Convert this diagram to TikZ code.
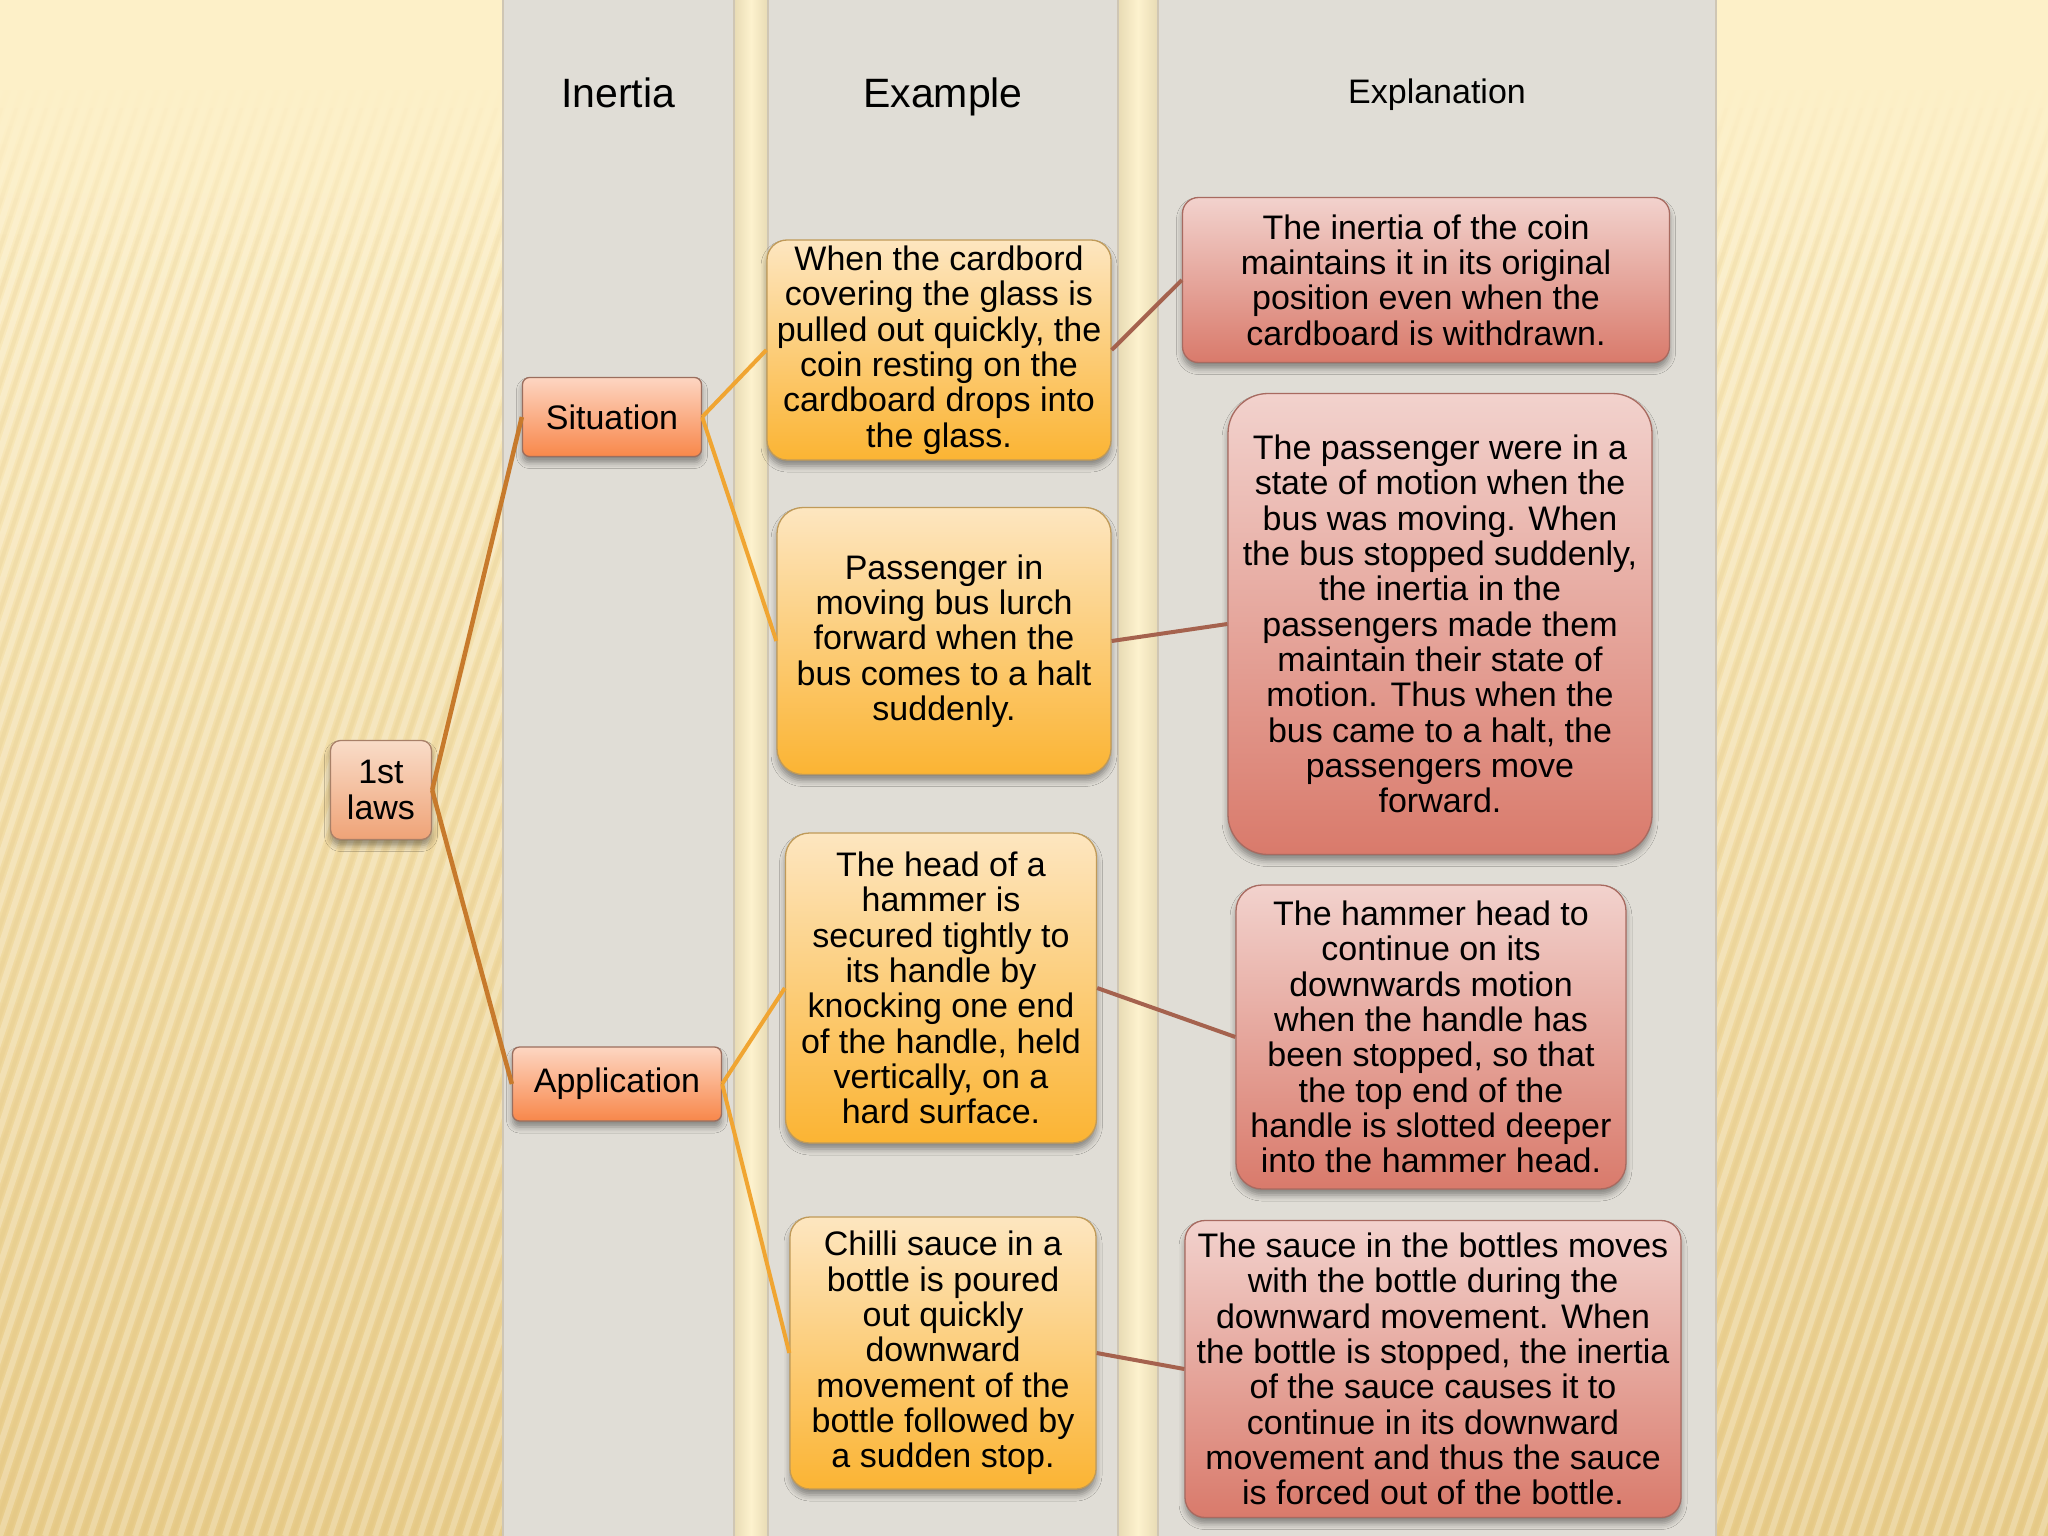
\documentclass[tikz,border=0pt]{standalone}
\usepackage{fontspec}
\setmainfont{Liberation Sans}
\usetikzlibrary{shadows.blur}
\definecolor{bgtop}{HTML}{FDF0C8}
\definecolor{bgbot}{HTML}{E8CC8A}
\definecolor{stripedark}{HTML}{D6B772}
\definecolor{gapedge}{HTML}{E8DBB4}
\definecolor{gapmid}{HTML}{FDF2CE}
\definecolor{colfill}{HTML}{E0DDD6}
\definecolor{coledge}{HTML}{CFC6B4}
\definecolor{lawtop}{HTML}{F9DCC8}
\definecolor{lawbot}{HTML}{EFA377}
\definecolor{lawline}{HTML}{A88068}
\definecolor{cattop}{HTML}{FDD6C2}
\definecolor{catbot}{HTML}{F8874A}
\definecolor{catline}{HTML}{9B6E5E}
\definecolor{extop}{HTML}{FDE6C0}
\definecolor{exbot}{HTML}{FBB433}
\definecolor{exline}{HTML}{C09A58}
\definecolor{exptop}{HTML}{F2D2CD}
\definecolor{expbot}{HTML}{D97A6B}
\definecolor{expline}{HTML}{A86A60}
\definecolor{linkmain}{HTML}{C77A2C}
\definecolor{linksub}{HTML}{F0A532}
\definecolor{linkexp}{HTML}{A5624E}
\newcommand{\bodyfont}{\fontsize{34}{35.3}\selectfont}
\newcommand{\headfont}{\fontsize{41}{45}\selectfont}
\newcommand{\headsmall}{\fontsize{34}{38}\selectfont}
\tikzset{
  boxbase/.style={align=center, inner sep=0pt, font=\bodyfont, line width=1.3pt,
    blur shadow={shadow xshift=0pt, shadow yshift=-6pt, shadow blur radius=6pt, shadow opacity=40}},
  lawbox/.style={boxbase, draw=lawline, top color=lawtop, bottom color=lawbot, rounded corners=10pt},
  catbox/.style={boxbase, draw=catline, top color=cattop, bottom color=catbot, rounded corners=7pt},
  exbox/.style={boxbase, draw=exline, top color=extop, bottom color=exbot},
  expbox/.style={boxbase, draw=expline, top color=exptop, bottom color=expbot},
  header/.style={anchor=base, inner sep=0pt},
  mainlink/.style={draw=linkmain, line width=4.5pt},
  sublink/.style={draw=linksub, line width=4pt},
  explink/.style={draw=linkexp, line width=4pt},
}
\begin{document}
\begin{tikzpicture}[x=1pt,y=-1pt]
\useasboundingbox (0,0) rectangle (2048,1536);
% background
\fill[top color=bgtop, bottom color=bgbot] (0,0) rectangle (2048,1536);
\begin{scope}
  \clip (0,90) rectangle (2048,1536);
  \foreach \k in {-40,...,140} {
    \draw[white, opacity=0.24, line width=6pt] (\k*15, 1536) -- (\k*15+480, 90);
    \draw[stripedark, opacity=0.14, line width=4pt] (\k*15+7.5, 1536) -- (\k*15+487.5, 90);
  }
\end{scope}
\fill[bgtop] (0,0) rectangle (2048,90);
\foreach \i in {0,...,9} {
  \fill[bgtop, opacity={0.9-0.09*\i}] (0,90+\i*18) rectangle (2048,108+\i*18);
}
% gaps between columns
\fill[left color=gapedge, right color=gapedge, middle color=gapmid] (734,0) rectangle (768,1536);
\fill[left color=gapedge, right color=gapedge, middle color=gapmid] (1118,0) rectangle (1158,1536);
% columns
\fill[colfill] (503,0) rectangle (734,1536);
\fill[colfill] (768,0) rectangle (1118,1536);
\fill[colfill] (1158,0) rectangle (1716,1536);
\foreach \xa/\xb in {503/734,768/1118,1158/1716} {
  \draw[coledge, line width=2.5pt] (\xa,0) -- (\xa,1536);
  \draw[coledge, line width=2.5pt] (\xb,0) -- (\xb,1536);
}

% headers
\node[header, font=\headfont] (hinertia) at (618,108) {Inertia};
\node[header, font=\headfont] (hexample) at (943,108) {Example};
\node[header, font=\headsmall] (hexpl) at (1437,104) {Explanation};

% nodes
\node[lawbox, minimum width=101pt, minimum height=99pt] (laws) at (381,790) {1st\\laws};
\node[catbox, minimum width=179pt, minimum height=79pt] (sit) at (612,417) {Situation};
\node[catbox, minimum width=209pt, minimum height=74pt] (app) at (617,1084) {Application};

\node[exbox, rounded corners=20pt, minimum width=344pt, minimum height=220pt] (ex1) at (939,350)
  {When the cardbord\\covering the glass is\\pulled out quickly, the\\coin resting on the\\cardboard drops into\\the glass.};
\node[exbox, rounded corners=26pt, minimum width=334pt, minimum height=267pt] (ex2) at (944,641)
  {Passenger in\\moving bus lurch\\forward when the\\bus comes to a halt\\suddenly.};
\node[exbox, rounded corners=24pt, minimum width=311pt, minimum height=310pt] (ex3) at (941,988)
  {The head of a\\hammer is\\secured tightly to\\its handle by\\knocking one end\\of the handle, held\\vertically, on a\\hard surface.};
\node[exbox, rounded corners=20pt, minimum width=306pt, minimum height=272pt] (ex4) at (943,1353)
  {Chilli sauce in a\\bottle is poured\\out quickly\\downward\\movement of the\\bottle followed by\\a sudden stop.};

\node[expbox, rounded corners=16pt, minimum width=487pt, minimum height=165pt] (exp1) at (1426,280)
  {The inertia of the coin\\maintains it in its original\\position even when the\\cardboard is withdrawn.};
\node[expbox, rounded corners=40pt, minimum width=424pt, minimum height=461pt] (exp2) at (1440,624)
  {The passenger were in a\\state of motion when the\\bus was moving. When\\the bus stopped suddenly,\\the inertia in the\\passengers made them\\maintain their state of\\motion. Thus when the\\bus came to a halt, the\\passengers move\\forward.};
\node[expbox, rounded corners=26pt, minimum width=390pt, minimum height=304pt] (exp3) at (1431,1037)
  {The hammer head to\\continue on its\\downwards motion\\when the handle has\\been stopped, so that\\the top end of the\\handle is slotted deeper\\into the hammer head.};
\node[expbox, rounded corners=20pt, minimum width=496pt, minimum height=297pt] (exp4) at (1433,1369)
  {The sauce in the bottles moves\\with the bottle during the\\downward movement. When\\the bottle is stopped, the inertia\\of the sauce causes it to\\continue in its downward\\movement and thus the sauce\\is forced out of the bottle.};

% connectors
\draw[mainlink] (laws.east) -- (sit.west);
\draw[mainlink] (laws.east) -- (app.west);
\draw[sublink] (sit.east) -- (ex1.west);
\draw[sublink] (sit.east) -- (ex2.west);
\draw[sublink] (app.east) -- (ex3.west);
\draw[sublink] (app.east) -- (ex4.west);
\draw[explink] (ex1.east) -- (exp1.west);
\draw[explink] (ex2.east) -- (exp2.west);
\draw[explink] (ex3.east) -- (exp3.west);
\draw[explink] (ex4.east) -- (exp4.west);
\end{tikzpicture}
\end{document}
